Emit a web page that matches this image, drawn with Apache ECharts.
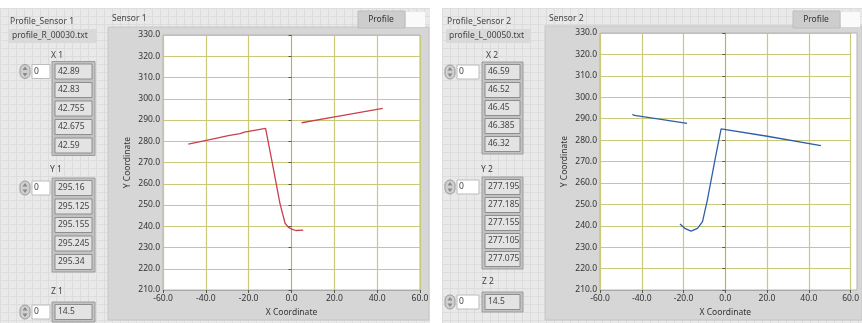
<!DOCTYPE html>
<html>
<head>
<meta charset="utf-8">
<script src="https://cdn.jsdelivr.net/npm/echarts@6/dist/echarts.min.js"></script>
<style>
  html, body { margin: 0; padding: 0; background: #fff; }
  .panel {
    position: absolute; top: 8px; height: 315px;
    background-color: #e9e9e9;
    background-image:
      linear-gradient(to right, #dcdcdc 1px, transparent 1px),
      linear-gradient(to bottom, #dcdcdc 1px, transparent 1px);
    background-size: 8px 8px;
  }
  #chart { position: absolute; left: 0; top: 0; width: 862px; height: 323px; }
</style>
</head>
<body>
<div class="panel" style="left:0;width:430px"></div>
<div class="panel" style="left:442px;width:420px"></div>
<div id="chart"></div>
<script>
// indicator values shown on the front panel
const fileNames = ['profile_R_00030.txt', 'profile_L_00050.txt'];
const x1Vals = [42.89, 42.83, 42.755, 42.675, 42.59];
const y1Vals = [295.16, 295.125, 295.155, 295.245, 295.34];
const z1Val = 14.5;
const x2Vals = [46.59, 46.52, 46.45, 46.385, 46.32];
const y2Vals = [277.195, 277.185, 277.155, 277.105, 277.075];
const z2Val = 14.5;

// profile traces (x, y)
const s1Right = [[42.6, 295.5], [19.5, 291.4], [4.7, 288.7]];
const s1Main = [
  [5.5, 238.2], [2, 238], [0.1, 238.6], [-1.5, 239.6], [-3, 241.4],
  [-5.4, 250.8], [-9.2, 271], [-12.1, 286.1], [-20, 284.6], [-22, 284.3],
  [-24, 283.6], [-29.5, 282.6], [-37, 281], [-48.2, 278.6]
];
const s2Main = [
  [45.8, 277.4], [19.4, 281.9], [-2, 285.2], [-4.8, 271.5], [-8.6, 252],
  [-10.9, 241.9], [-13.3, 238.8], [-16.4, 237.5], [-19.4, 238.8], [-21.7, 240.8]
];
const s2Left = [[-18.3, 287.8], [-30, 289.6], [-43.5, 291.5], [-44.5, 292]];

const xTicks = { min: -60, max: 60, step: 20 };
const yTicks = { min: 210, max: 330, step: 10 };

const FONT = 'Noto Sans';
const FS = 8.5;
const chart = echarts.init(document.getElementById('chart'));

// plot areas (grid boxes)
const plots = [
  { left: 163, top: 35, width: 257, height: 255 },
  { left: 600, top: 33, width: 257, height: 257 }
];

function label(x, y, text, align) {
  return { type: 'text', z: 10, x: x, y: y,
    style: { text: text, fill: '#444', font: FS + 'px ' + FONT, textAlign: align || 'left', textVerticalAlign: 'middle' } };
}

function spinner(x, cy, boxW) {
  return [
    { type: 'rect', z: 10, shape: { x: x, y: cy - 7, width: 10, height: 14, r: 5 },
      style: { fill: '#cfcfcf', stroke: '#9a9a9a', lineWidth: 1 } },
    { type: 'polygon', z: 11, shape: { points: [[x + 2.5, cy - 1.5], [x + 7.5, cy - 1.5], [x + 5, cy - 5]] }, style: { fill: '#888' } },
    { type: 'polygon', z: 11, shape: { points: [[x + 2.5, cy + 1.5], [x + 7.5, cy + 1.5], [x + 5, cy + 5]] }, style: { fill: '#888' } },
    { type: 'rect', z: 10, shape: { x: x + 12, y: cy - 7, width: boxW, height: 14 },
      style: { fill: '#fff', stroke: '#bcbcbc', lineWidth: 1 } },
    label(x + 14, cy, '0')
  ];
}

function indicatorArray(x, w, firstCy, step, vals) {
  const n = vals.length;
  const els = [{ type: 'rect', z: 9,
    shape: { x: x - 3, y: firstCy - 10, width: w + 6, height: step * (n - 1) + 20 },
    style: { fill: '#c2c2c2', stroke: '#9c9c9c', lineWidth: 1 } }];
  vals.forEach(function (v, i) {
    const cy = firstCy + i * step;
    els.push({ type: 'rect', z: 10, shape: { x: x, y: cy - 7.5, width: w, height: 15 },
      style: { fill: '#e3e3e3', stroke: '#8e8e8e', lineWidth: 1 } });
    els.push(label(x + 3, cy, String(v)));
  });
  return els;
}

function sidePanel(o) {
  let els = [
    label(o.x0, 22, o.title),
    { type: 'rect', z: 10, shape: { x: o.x0 - 1, y: 29, width: o.fileW, height: 14 }, style: { fill: '#d9d9d9' } },
    label(o.x0 + 2, 36, o.file),
    label(o.lx[0], 56, o.names[0], 'center'),
    label(o.lx[1], 170, o.names[1], 'center'),
    label(o.lx[2], o.zLabelY, o.names[2], 'center')
  ];
  els = els.concat(spinner(o.spinX, o.xCy, o.spinW), indicatorArray(o.cellX, o.cellW, o.xCy, o.step, o.xv));
  els = els.concat(spinner(o.spinX, o.yCy, o.spinW), indicatorArray(o.cellX, o.cellW, o.yCy, o.step, o.yv));
  els = els.concat(spinner(o.spinX, o.zCy, o.spinW), indicatorArray(o.cellX, o.cellW, o.zCy, o.step, [o.zv]));
  return els;
}

function graphFrame(x, y, w, h, title, legX, p) {
  return [
    { type: 'rect', z: 0, shape: { x: x, y: y, width: w, height: h }, style: { fill: '#d6d6d6', stroke: '#c6c6c6' } },
    { type: 'rect', z: 1, shape: { x: p.left, y: p.top, width: p.width, height: p.height }, style: { fill: '#fff', stroke: '#b4b4b4' } },
    label(x + 4, 19, title),
    { type: 'rect', z: 10, shape: { x: legX, y: 11, width: 47, height: 17 }, style: { fill: '#cdcdcd', stroke: '#bdbdbd' } },
    { type: 'text', z: 11, x: legX + 23, y: 19.5,
      style: { text: 'Profile', fill: '#333', font: FS + 'px ' + FONT, textAlign: 'center', textVerticalAlign: 'middle' } },
    { type: 'rect', z: 10, shape: { x: legX + 48, y: 12, width: 19, height: 15 }, style: { fill: '#fafafa' } }
  ];
}

const graphics = [].concat(
  sidePanel({ x0: 10, title: 'Profile_Sensor 1', file: fileNames[0], fileW: 88,
    names: ['X 1', 'Y 1', 'Z 1'], lx: [57, 56, 57], zLabelY: 292,
    spinX: 20, spinW: 18, cellX: 55, cellW: 37, step: 18.5,
    xCy: 71.5, yCy: 188, zCy: 312, xv: x1Vals, yv: y1Vals, zv: z1Val }),
  sidePanel({ x0: 447, title: 'Profile_Sensor 2', file: fileNames[1], fileW: 85,
    names: ['X 2', 'Y 2', 'Z 2'], lx: [492, 487, 488], zLabelY: 282,
    spinX: 445, spinW: 22, cellX: 485, cellW: 35, step: 18,
    xCy: 72, yCy: 187, zCy: 302, xv: x2Vals, yv: y2Vals, zv: z2Val }),
  graphFrame(108, 27, 321, 293, 'Sensor 1', 358, plots[0]),
  graphFrame(545, 26, 317, 294, 'Sensor 2', 793, plots[1])
);

function xAxis(i) {
  return {
    gridIndex: i, z: 5, type: 'value', min: xTicks.min, max: xTicks.max, interval: xTicks.step,
    name: 'X Coordinate', nameLocation: 'middle', nameGap: 18,
    nameTextStyle: { fontFamily: FONT, fontSize: FS, color: '#333' },
    axisLine: { show: true, lineStyle: { color: '#a8a8a8' } },
    axisTick: { show: true, length: 3, lineStyle: { color: '#555' } },
    axisLabel: { fontFamily: FONT, fontSize: FS, color: '#333', margin: 4, formatter: v => v.toFixed(1) },
    splitLine: { show: true, lineStyle: { color: '#c9c97a', width: 1.2 } }
  };
}
function yAxis(i) {
  return {
    gridIndex: i, z: 5, type: 'value', min: yTicks.min, max: yTicks.max, interval: yTicks.step,
    name: 'Y Coordinate', nameLocation: 'middle', nameGap: 31, nameRotate: 90,
    nameTextStyle: { fontFamily: FONT, fontSize: FS, color: '#333' },
    axisLine: { show: true, lineStyle: { color: '#a8a8a8' } },
    axisTick: { show: true, length: 3, lineStyle: { color: '#555' } },
    axisLabel: { fontFamily: FONT, fontSize: FS, color: '#333', margin: 3, formatter: v => v.toFixed(1) },
    splitLine: { show: true, lineStyle: { color: '#c9c97a', width: 1.2 } }
  };
}
function trace(i, data, color) {
  return { type: 'line', xAxisIndex: i, yAxisIndex: i, data: data, showSymbol: false,
    lineStyle: { color: color, width: 1.3 }, animation: false, z: 6 };
}

chart.setOption({
  backgroundColor: 'transparent',
  animation: false,
  grid: plots.map(p => Object.assign({ show: false }, p)),
  xAxis: [xAxis(0), xAxis(1)],
  yAxis: [yAxis(0), yAxis(1)],
  series: [
    trace(0, s1Right, '#c8404e'),
    trace(0, s1Main, '#c8404e'),
    trace(1, s2Main, '#2f5fa8'),
    trace(1, s2Left, '#2f5fa8')
  ],
  graphic: graphics
});
</script>
</body>
</html>
